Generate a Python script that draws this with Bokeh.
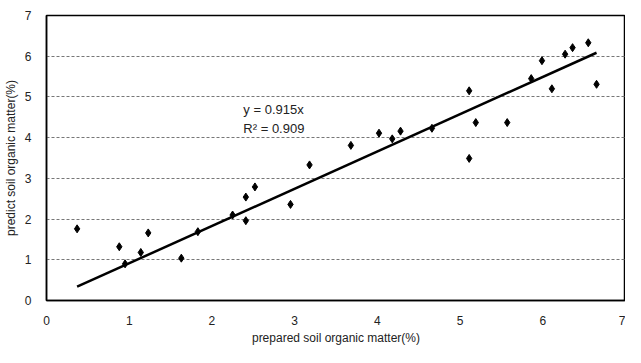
from bokeh.plotting import figure
from bokeh.models import Range1d, FixedTicker, Label
from bokeh.embed import file_html
from bokeh.resources import INLINE

prepared = [0.37, 0.88, 0.95, 1.14, 1.23, 1.63, 1.83, 2.25, 2.41, 2.41, 2.52, 2.95, 3.18,
            3.68, 4.02, 4.18, 4.28, 4.66, 5.11, 5.11, 5.19, 5.57, 5.86, 5.99, 6.11, 6.27,
            6.36, 6.55, 6.65]
predicted = [1.76, 1.32, 0.90, 1.18, 1.66, 1.04, 1.69, 2.10, 2.54, 1.96, 2.79, 2.36, 3.33,
             3.81, 4.11, 3.97, 4.16, 4.23, 5.15, 3.49, 4.37, 4.37, 5.45, 5.89, 5.20, 6.05,
             6.21, 6.33, 5.31]
slope = 0.915
fit_x = [0.37, 6.65]
fit_y = [slope * v for v in fit_x]
ticks = [0, 1, 2, 3, 4, 5, 6, 7]

FONT = "Liberation Sans"

p = figure(width=625, height=347, output_backend="svg", toolbar_location=None,
           x_range=Range1d(0, 7), y_range=Range1d(0, 7),
           min_border_left=37, min_border_right=0, min_border_top=15, min_border_bottom=40)
p.background_fill_color = "white"
p.border_fill_color = "white"
p.outline_line_color = "black"
p.outline_line_width = 1.5

p.xaxis.ticker = FixedTicker(ticks=ticks)
p.yaxis.ticker = FixedTicker(ticks=ticks)
for ax in (p.xaxis[0], p.yaxis[0]):
    ax.axis_line_color = "black"
    ax.axis_line_width = 1.5
    ax.major_tick_line_color = None
    ax.minor_tick_line_color = None
    ax.major_label_text_font = FONT
    ax.major_label_text_font_size = "12px"
    ax.major_label_text_color = "#222222"
    ax.axis_label_text_font = FONT
    ax.axis_label_text_font_size = "12px"
    ax.axis_label_text_font_style = "normal"
    ax.axis_label_text_color = "#222222"
p.xaxis.axis_label = "prepared soil organic matter(%)"
p.yaxis.axis_label = "predict soil organic matter(%)"
p.xaxis.major_label_standoff = 9
p.yaxis.major_label_standoff = 9
p.xaxis.axis_label_standoff = 3
p.yaxis.axis_label_standoff = 4

p.xgrid.grid_line_color = None
p.ygrid.ticker = FixedTicker(ticks=ticks)
p.ygrid.grid_line_color = "#777777"
p.ygrid.grid_line_dash = "3 2"
p.ygrid.grid_line_width = 1

p.line(fit_x, fit_y, line_color="black", line_width=2.5)
p.scatter(prepared, predicted, marker="diamond", size=8, color="black")

p.add_layout(Label(x=2.38, y=4.68, text="y = 0.915x", text_font=FONT,
                   text_font_size="13px", text_color="#222222", text_baseline="middle"))
p.add_layout(Label(x=2.38, y=4.22, text="R\u00b2 = 0.909", text_font=FONT,
                   text_font_size="13px", text_color="#222222", text_baseline="middle"))

open("out.html", "w").write(file_html(p, INLINE))
